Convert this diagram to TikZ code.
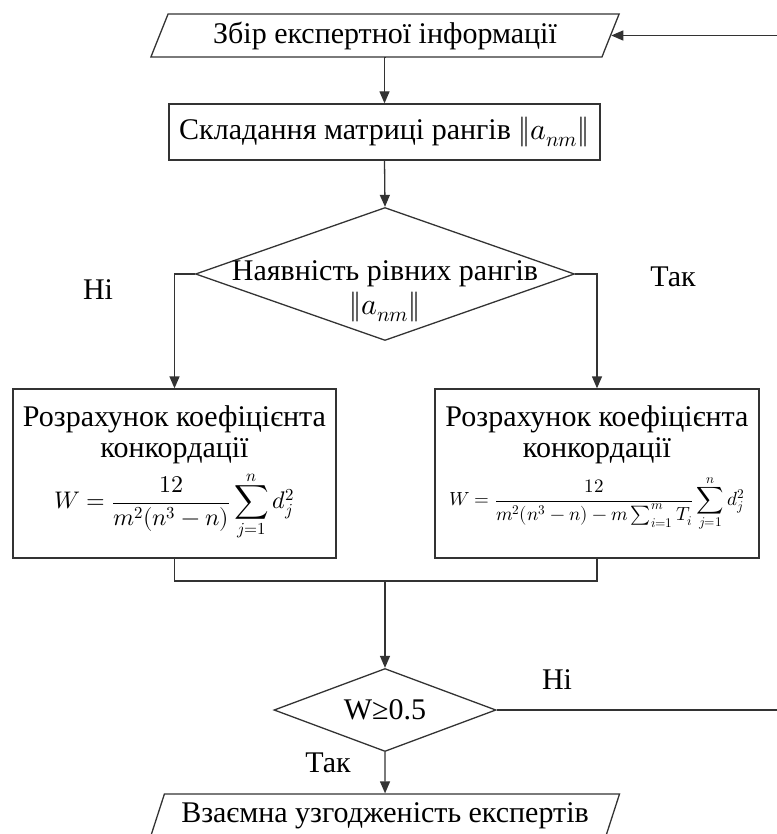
\documentclass[tikz,border=0pt]{standalone}
\usepackage{fontspec}
\usepackage{unicode-math}
\setmainfont{Liberation Serif}
\setmathfont{Latin Modern Math}
\usetikzlibrary{shapes.geometric,arrows.meta}

\newcommand\bigtxt{\fontsize{30}{31}\selectfont}
\newcommand\frmbig{\fontsize{24}{28}\selectfont}
\newcommand\frmsmall{\fontsize{19}{22}\selectfont}

\tikzset{
  lin/.style={draw=black!80, line width=1.3pt},
  arr/.style={lin, -{Triangle[length=12pt,width=10pt]}},
  iobox/.style={lin, trapezium, trapezium left angle=64, trapezium right angle=116,
    trapezium stretches=true, minimum width=470, minimum height=43, inner sep=0pt, font=\bigtxt},
  procbox/.style={lin, rectangle, inner sep=0pt, align=center, font=\bigtxt},
  decision/.style={lin, diamond, inner sep=0pt, font=\bigtxt},
  answer/.style={font=\bigtxt, inner sep=0pt}
}

\begin{document}
\begin{tikzpicture}[x=1pt,y=-1pt]
\useasboundingbox (0,0) rectangle (776,834);

% input of expert data
\node[iobox] (p1) at (385,35.5) {Збір експертної інформації};

% rank matrix
\node[procbox, minimum width=431, minimum height=56] (r1) at (384.5,132)
  {Складання матриці рангів $\|a_{nm}\|$};

% tied ranks check
\node[decision, minimum width=379, minimum height=133] (d1) at (385,274) {};
\node[answer, align=center] (d1t) at (385,291) {Наявність рівних рангів\\[3pt]$\|a_{nm}\|$};

% concordance coefficient, two variants
\node[procbox, minimum width=323, minimum height=169] (lb) at (174.5,473.5)
  {Розрахунок коефіцієнта\\конкордації\\[6pt]
   \frmbig$\displaystyle W=\frac{12}{m^2(n^3-n)}\sum_{j=1}^{n}d_j^2$\rule[-24pt]{0pt}{1pt}};
\node[procbox, minimum width=324, minimum height=169] (rb) at (597,473.5)
  {Розрахунок коефіцієнта\\конкордації\\[11pt]
   \frmsmall$\displaystyle W=\frac{12}{m^2(n^3-n)-m\sum_{i=1}^{m}T_i}\sum_{j=1}^{n}d_j^2$\rule[-36pt]{0pt}{1pt}};

% threshold check
\node[decision, aspect=2.67, minimum width=222, minimum height=83] (d2) at (385,710) {W≥0.5};

% result
\node[iobox] (p2) at (385,815.5) {Взаємна узгодженість експертів};

% branch labels
\node[answer] (no1) at (98,290) {Ні};
\node[answer] (yes1) at (673,277) {Так};
\node[answer] (no2) at (557,680) {Ні};
\node[answer] (yes2) at (328,763) {Так};

% helper points
\coordinate (m) at (385,581);
\coordinate (rt) at (781,710);

% connectors
\draw[arr] (p1.south) -- (r1.south |- p1.south) -- (r1.north);
\draw[arr] (r1.south) -- (d1.north);
\draw[arr] (d1.west) -| (lb.north);
\draw[arr] (d1.east) -| (rb.north);
\draw[lin] (lb.south) |- (m) -| (rb.south);
\draw[arr] (m) -- (d2.north);
\draw[arr] (d2.south) -- (p2.north);
\draw[arr] (d2.east) -- (rt) |- (p1.east);
\end{tikzpicture}
\end{document}
